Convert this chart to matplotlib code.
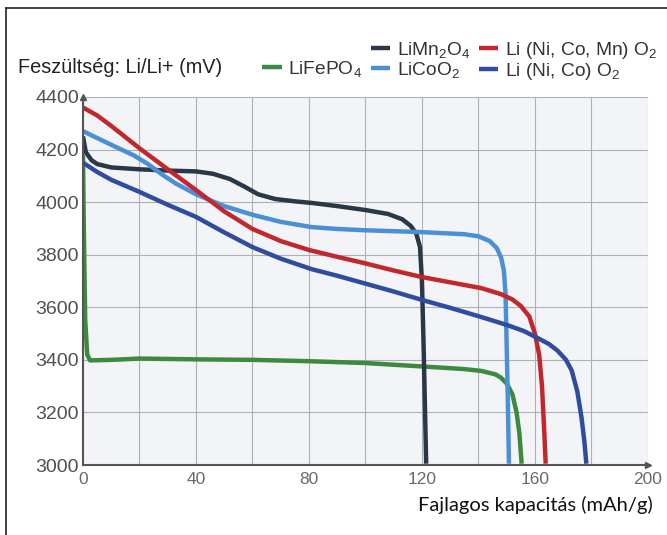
import matplotlib.pyplot as plt
from matplotlib.lines import Line2D

plt.rcParams['font.family'] = ['Liberation Sans', 'DejaVu Sans']
plt.rcParams['mathtext.fontset'] = 'custom'
plt.rcParams['mathtext.rm'] = 'Liberation Sans'
plt.rcParams['mathtext.it'] = 'Liberation Sans'

# capacity (mAh/g) vs voltage (mV)
fepo_x = [0, 0.3, 0.8, 1.5, 2.5, 10, 20, 40, 60, 80, 100, 120, 135, 141, 146, 148, 150, 152, 153.5, 154.5, 155.3]
fepo_y = [4180, 3900, 3550, 3420, 3398, 3400, 3405, 3402, 3400, 3395, 3388, 3375, 3365, 3358, 3345, 3332, 3310, 3270, 3200, 3120, 3005]

mn_x = [0, 1, 3, 5, 10, 20, 30, 40, 46, 52, 57, 62, 68, 75, 81, 90, 100, 108, 113, 116, 118, 119.3, 120, 120.6, 121, 121.5]
mn_y = [4250, 4190, 4160, 4145, 4132, 4125, 4120, 4117, 4108, 4088, 4060, 4030, 4012, 4003, 3997, 3985, 3970, 3955, 3935, 3910, 3880, 3830, 3700, 3450, 3250, 3005]

co_x = [0, 5, 12, 18, 23, 28, 33, 40, 50, 60, 70, 81, 90, 100, 120, 135, 140, 144, 146.5, 148, 149, 149.6, 150, 150.4, 150.8]
co_y = [4270, 4244, 4208, 4178, 4145, 4105, 4070, 4030, 3985, 3952, 3925, 3905, 3898, 3893, 3886, 3878, 3870, 3852, 3825, 3790, 3740, 3650, 3450, 3250, 3005]

nmc_x = [0, 5, 10, 20, 30, 40, 50, 60, 70, 80, 90, 100, 110, 120, 130, 141, 148, 152, 155, 158, 160, 161.5, 162.5, 163.2, 163.8]
nmc_y = [4360, 4330, 4290, 4205, 4125, 4046, 3965, 3898, 3852, 3818, 3792, 3767, 3740, 3715, 3695, 3673, 3650, 3630, 3605, 3565, 3500, 3420, 3300, 3150, 3005]

nc_x = [0, 5, 10, 20, 30, 40, 50, 60, 70, 81, 90, 100, 110, 120, 130, 141, 150, 156, 161, 165, 168, 171, 173, 175, 176.5, 177.5, 178.2]
nc_y = [4150, 4115, 4085, 4039, 3990, 3944, 3885, 3829, 3785, 3745, 3720, 3690, 3660, 3628, 3598, 3563, 3533, 3510, 3483, 3460, 3435, 3400, 3360, 3280, 3180, 3090, 3005]

series = [
    ('LiFePO$_4$', fepo_x, fepo_y, '#3b8a3e'),
    ('LiMn$_2$O$_4$', mn_x, mn_y, '#2a3747'),
    ('LiCoO$_2$', co_x, co_y, '#4a90d4'),
    ('Li (Ni, Co, Mn) O$_2$', nmc_x, nmc_y, '#c1272d'),
    ('Li (Ni, Co) O$_2$', nc_x, nc_y, '#2f4c9e'),
]

fig = plt.figure(figsize=(6.67, 5.35), dpi=100)
ax = fig.add_axes([0.1244, 0.1308, 0.847, 0.6879])
ax.set_facecolor('#f3f4f8')

lines = {}
for name, xs, ys, col in series:
    lines[name] = ax.plot(xs, ys, color=col, lw=3.2, solid_capstyle='butt',
                          solid_joinstyle='round', label=name)[0]

ax.set_xlim(0, 200)
ax.set_ylim(3000, 4400)
ax.set_xticks([0, 40, 80, 120, 160, 200])
ax.set_xticks(range(0, 201, 20), minor=True)
ax.set_yticks(range(3000, 4401, 200))
ax.grid(True, which='both', color='#aeb0b4', lw=0.8)
ax.tick_params(which='both', length=0)
ax.tick_params(axis='y', colors='#505050', labelsize=14, pad=3)
ax.tick_params(axis='x', colors='#6a6a6a', labelsize=12.5, pad=5)
for s in ['top', 'right']:
    ax.spines[s].set_visible(False)
for s in ['left', 'bottom']:
    ax.spines[s].set_color('#555555')
    ax.spines[s].set_linewidth(1.5)
ax.plot(1, 0, '>', color='#555555', ms=5, transform=ax.transAxes, clip_on=False)
ax.plot(0, 1, '^', color='#555555', ms=5, transform=ax.transAxes, clip_on=False)

blank = Line2D([], [], color='none')
order = ['LiFePO$_4$', 'LiMn$_2$O$_4$', 'LiCoO$_2$', 'Li (Ni, Co, Mn) O$_2$', 'Li (Ni, Co) O$_2$']
handles = [blank, lines[order[0]], lines[order[1]], lines[order[2]], lines[order[3]], lines[order[4]]]
labels = [''] + order
fig.legend(handles, labels, ncol=3, loc='upper right', bbox_to_anchor=(0.997, 0.94),
           frameon=False, fontsize=13.8, handlelength=1.0, handletextpad=0.35,
           columnspacing=0.45, labelspacing=0.0, labelcolor='#333333',
           borderaxespad=0)

fig.text(0.027, 0.873, 'Feszültség: Li/Li+ (mV)', fontsize=14.3, color='#222222', va='center')
fig.text(0.978, 0.056, 'Fajlagos kapacitás (mAh/g)', fontsize=14.5, color='#111111',
         ha='right', va='center', family=['Lato', 'DejaVu Sans'])

fig.add_artist(Line2D([0.009, 1], [0.985, 0.985], color='#222222', lw=1.2))
fig.add_artist(Line2D([0.009, 0.009], [0, 0.985], color='#222222', lw=1.2))

fig.savefig('out.png', dpi=100, facecolor='white')
